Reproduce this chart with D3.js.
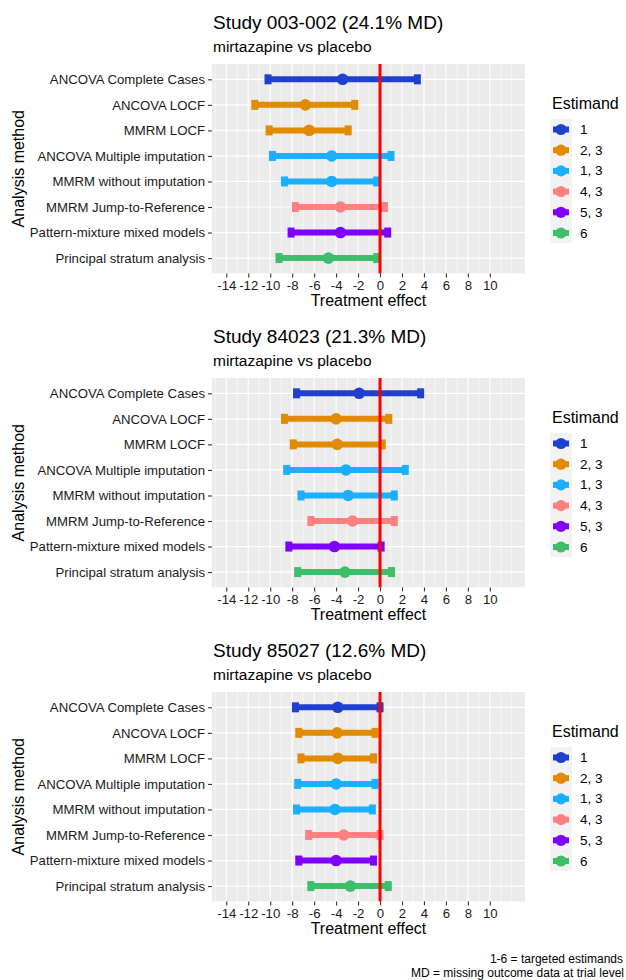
<!DOCTYPE html>
<html>
<head>
<meta charset="utf-8">
<script src="https://cdn.jsdelivr.net/npm/d3@7"></script>
<style>
  body { margin: 0; background: #fff; }
  svg { display: block; font-family: "Liberation Sans", Arial, sans-serif; }
</style>
</head>
<body>
<svg id="chart"></svg>
<script>
const width = 626;
const height = 980;

// analysis methods, top to bottom
const methods = [
  'ANCOVA Complete Cases',
  'ANCOVA LOCF',
  'MMRM LOCF',
  'ANCOVA Multiple imputation',
  'MMRM without imputation',
  'MMRM Jump-to-Reference',
  'Pattern-mixture mixed models',
  'Principal stratum analysis'
];
const methodEstimand = ['1', '2, 3', '2, 3', '1, 3', '1, 3', '4, 3', '5, 3', '6'];

const estimands = ['1', '2, 3', '1, 3', '4, 3', '5, 3', '6'];
const estimandColors = ['#1f3fcf', '#e08b00', '#1ab0ff', '#ff8080', '#7f00ff', '#3dbe6a'];

const studyTitles = ['Study 003-002 (24.1% MD)', 'Study 84023 (21.3% MD)', 'Study 85027 (12.6% MD)'];
const subtitle = 'mirtazapine vs placebo';

// treatment effect and interval per study, in method order
const est003 = [-3.4, -6.8, -6.45, -4.4, -4.4, -3.6, -3.6, -4.7];
const lo003  = [-10.2, -11.4, -10.1, -9.8, -8.7, -7.7, -8.1, -9.2];
const hi003  = [3.4, -2.3, -2.9, 1.0, -0.3, 0.4, 0.7, -0.3];

const est84023 = [-1.9, -4.0, -3.9, -3.1, -2.9, -2.5, -4.15, -3.2];
const lo84023  = [-7.6, -8.7, -7.9, -8.5, -7.2, -6.3, -8.3, -7.5];
const hi84023  = [3.7, 0.8, 0.2, 2.3, 1.3, 1.3, 0.1, 1.05];

const est85027 = [-3.85, -3.9, -3.85, -4.0, -4.1, -3.3, -4.0, -2.7];
const lo85027  = [-7.7, -7.4, -7.2, -7.5, -7.6, -6.5, -7.4, -6.3];
const hi85027  = [0.0, -0.45, -0.6, -0.45, -0.7, 0.0, -0.6, 0.75];

const studyEst = [est003, est84023, est85027];
const studyLo = [lo003, lo84023, lo85027];
const studyHi = [hi003, hi84023, hi85027];

const xTicks = d3.range(-14, 11, 2);
const xMinor = [-15, -13, -11, -9, -7, -5, -3, -1, 1, 3, 5, 7, 9, 11, 12];

const panelLeft = 212, panelRight = 525, panelH = 209.4;
const panelTops = [64, 378, 692];

const x = d3.scaleLinear().domain([-15.3, 13.2]).range([panelLeft, panelRight]);
const color = d3.scaleOrdinal().domain(estimands).range(estimandColors);

const svg = d3.select('#chart').attr('width', width).attr('height', height);

function drawPanel(i) {
  const top = panelTops[i];
  const g = svg.append('g').attr('transform', `translate(0,${top})`);
  const y = d3.scalePoint().domain(methods).range([0, panelH]).padding(0.6);

  // titles
  g.append('text').attr('x', panelLeft + 1).attr('y', -35)
    .attr('font-size', 19).attr('fill', '#000').text(studyTitles[i]);
  g.append('text').attr('x', panelLeft + 1).attr('y', -12)
    .attr('font-size', 15.5).attr('fill', '#000').text(subtitle);

  // background + grid
  g.append('rect').attr('x', panelLeft).attr('y', 0)
    .attr('width', panelRight - panelLeft).attr('height', panelH).attr('fill', '#ebebeb');
  g.selectAll('.minor').data(xMinor).enter().append('line')
    .attr('x1', d => x(d)).attr('x2', d => x(d)).attr('y1', 0).attr('y2', panelH)
    .attr('stroke', '#fff').attr('stroke-width', 0.6);
  g.selectAll('.major').data(xTicks).enter().append('line')
    .attr('x1', d => x(d)).attr('x2', d => x(d)).attr('y1', 0).attr('y2', panelH)
    .attr('stroke', '#fff').attr('stroke-width', 1.2);
  g.selectAll('.hgrid').data(methods).enter().append('line')
    .attr('x1', panelLeft).attr('x2', panelRight).attr('y1', d => y(d)).attr('y2', d => y(d))
    .attr('stroke', '#fff').attr('stroke-width', 1.2);

  // axes
  const xAxis = g.append('g').attr('transform', `translate(0,${panelH})`)
    .call(d3.axisBottom(x).tickValues(xTicks).tickSize(4).tickPadding(3).tickFormat(d => d));
  const yAxis = g.append('g').attr('transform', `translate(${panelLeft},0)`)
    .call(d3.axisLeft(y).tickSize(4).tickPadding(3));
  [xAxis, yAxis].forEach(a => {
    a.select('.domain').remove();
    a.selectAll('line').attr('stroke', '#333').attr('stroke-width', 1.1);
    a.selectAll('text').attr('fill', '#1a1a1a').attr('font-size', 13.2)
      .attr('font-family', '"Liberation Sans", Arial, sans-serif');
  });

  g.append('text').attr('x', (panelLeft + panelRight) / 2).attr('y', panelH + 33)
    .attr('text-anchor', 'middle').attr('font-size', 16).attr('fill', '#000').text('Treatment effect');
  g.append('text').attr('transform', `translate(24,${panelH / 2}) rotate(-90)`)
    .attr('text-anchor', 'middle').attr('font-size', 16).attr('fill', '#000').text('Analysis method');

  // error bars
  const rows = methods.map((m, j) => ({
    m, e: methodEstimand[j], est: studyEst[i][j], lo: studyLo[i][j], hi: studyHi[i][j]
  }));
  const bars = g.selectAll('.bar').data(rows).enter().append('g');
  bars.append('line')
    .attr('x1', d => x(d.lo)).attr('x2', d => x(d.hi))
    .attr('y1', d => y(d.m)).attr('y2', d => y(d.m))
    .attr('stroke', d => color(d.e)).attr('stroke-width', 6);
  bars.append('rect').attr('x', d => x(d.lo) - 3.5).attr('y', d => y(d.m) - 5)
    .attr('width', 7).attr('height', 10).attr('fill', d => color(d.e));
  bars.append('rect').attr('x', d => x(d.hi) - 3.5).attr('y', d => y(d.m) - 5)
    .attr('width', 7).attr('height', 10).attr('fill', d => color(d.e));
  bars.append('circle').attr('cx', d => x(d.est)).attr('cy', d => y(d.m))
    .attr('r', 5.8).attr('fill', d => color(d.e));

  // reference line at zero
  g.append('line').attr('x1', x(0)).attr('x2', x(0)).attr('y1', 0).attr('y2', panelH)
    .attr('stroke', '#ff0000').attr('stroke-width', 3);

  // legend
  const lg = g.append('g').attr('transform', 'translate(550,0)');
  lg.append('text').attr('x', 2).attr('y', 45).attr('font-size', 16).attr('fill', '#000').text('Estimand');
  lg.append('rect').attr('x', 0).attr('y', 55).attr('width', 22).attr('height', 124).attr('fill', '#f2f2f2');
  const keys = lg.selectAll('.key').data(estimands).enter().append('g')
    .attr('transform', (d, k) => `translate(0,${65.5 + k * 20.7})`);
  keys.append('line').attr('x1', 3).attr('x2', 19).attr('y1', 0).attr('y2', 0)
    .attr('stroke', d => color(d)).attr('stroke-width', 6);
  keys.append('circle').attr('cx', 11).attr('cy', 0).attr('r', 5.6).attr('fill', d => color(d));
  keys.append('text').attr('x', 30).attr('y', 4.5).attr('font-size', 13.5).attr('fill', '#000').text(d => d);
}

[0, 1, 2].forEach(drawPanel);

// footer notes
svg.append('text').attr('x', 623).attr('y', 963).attr('text-anchor', 'end')
  .attr('font-size', 12).attr('fill', '#000').text('1-6 = targeted estimands');
svg.append('text').attr('x', 624).attr('y', 977).attr('text-anchor', 'end')
  .attr('font-size', 12).attr('fill', '#000').text('MD = missing outcome data at trial level');
</script>
</body>
</html>
